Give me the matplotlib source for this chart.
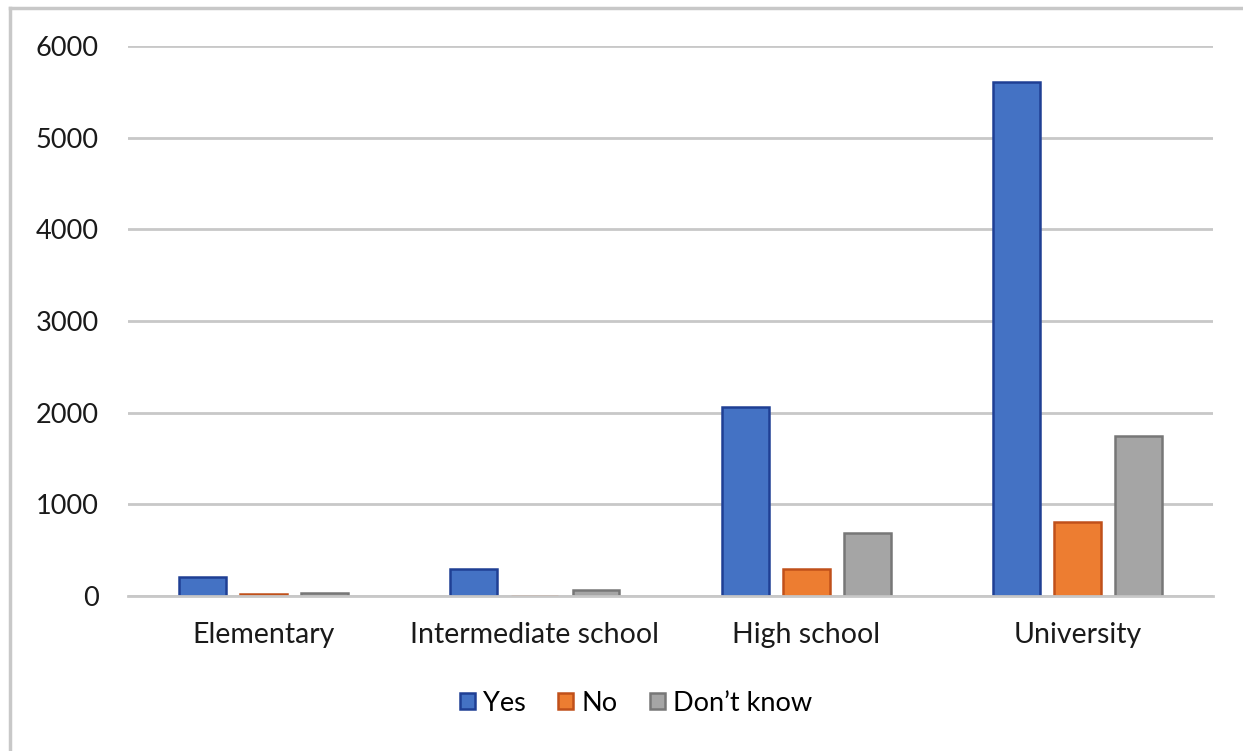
import matplotlib.pyplot as plt
from matplotlib.lines import Line2D
import numpy as np

plt.rcParams['font.family'] = ['Lato', 'DejaVu Sans']

categories = ['Elementary', 'Intermediate school', 'High school', 'University']
yes = [210, 290, 2060, 5610]
no = [25, 0, 290, 810]
dont_know = [35, 70, 690, 1750]

series = [
    ('Yes', yes, '#4472C4', '#1F3F94'),
    ('No', no, '#ED7D31', '#C0501A'),
    ('Don\u2019t know', dont_know, '#A5A5A5', '#777777'),
]

fig = plt.figure(figsize=(12.43, 7.51), dpi=100)
ax = fig.add_axes([0.103, 0.2064, 0.873, 0.7323])

x = np.arange(len(categories))
width = 0.173
step = 0.225
for i, (name, vals, face, edge) in enumerate(series):
    ax.bar(x + (i - 1) * step, vals, width, color=face, edgecolor=edge,
           linewidth=1.8, label=name, zorder=3)

ax.set_xlim(-0.5, 3.5)
ax.set_ylim(0, 6000)
ax.set_yticks(np.arange(0, 6001, 1000))
ax.yaxis.grid(True, color='#C8C8C8', linewidth=2.0, zorder=0)
ax.set_axisbelow(True)
for side in ['top', 'right', 'left']:
    ax.spines[side].set_visible(False)
ax.spines['bottom'].set_color('#C8C8C8')
ax.spines['bottom'].set_linewidth(2.0)
ax.spines['bottom'].set_zorder(4)

ax.set_xticks(x)
ax.set_xticklabels(categories)
ax.tick_params(axis='x', length=0, labelsize=20.5, colors='#1a1a1a', pad=19)
ax.tick_params(axis='y', length=0, labelsize=19.5, colors='#1a1a1a', pad=21)

ax.legend(loc='center', bbox_to_anchor=(0.468, -0.195), ncol=3, frameon=False,
          fontsize=19.5, handlelength=0.55, handleheight=0.55, handletextpad=0.3,
          columnspacing=1.2)

# light frame around the chart area
fig.add_artist(Line2D([0.008, 0.008], [0.0, 0.99], color='#C8C8C8', linewidth=2.5))
fig.add_artist(Line2D([0.008, 1.0], [0.99, 0.99], color='#C8C8C8', linewidth=2.5))

fig.savefig('out.png', dpi=100)
